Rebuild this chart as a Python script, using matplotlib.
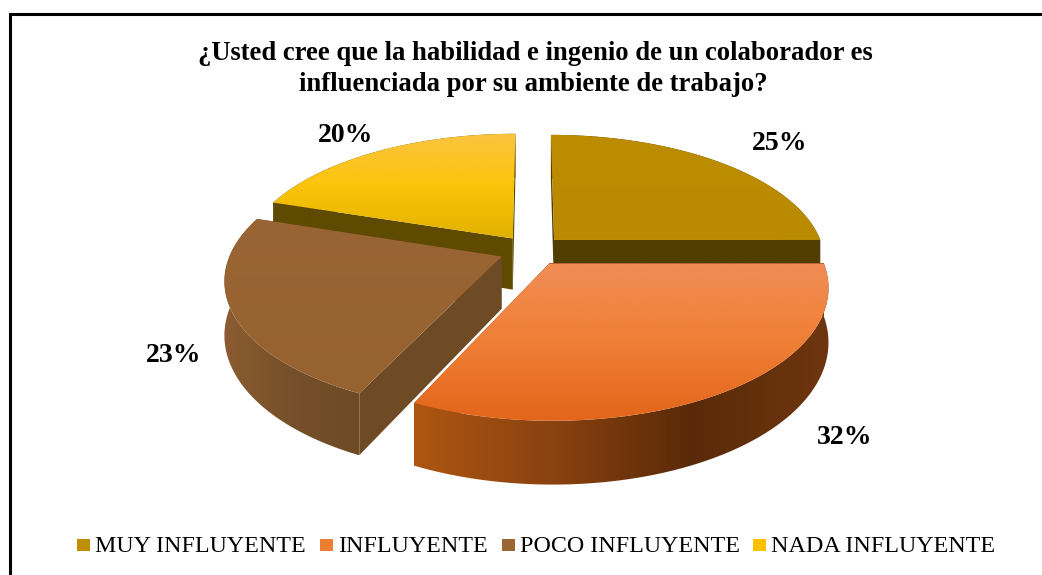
import matplotlib
matplotlib.use("Agg")
import matplotlib.pyplot as plt
import numpy as np
from matplotlib.colors import LinearSegmentedColormap
from matplotlib.patches import Polygon, Rectangle

title = ["¿Usted cree que la habilidad e ingenio de un colaborador es",
         "influenciada por su ambiente de trabajo?"]
labels = ["MUY INFLUYENTE", "INFLUYENTE", "POCO INFLUYENTE", "NADA INFLUYENTE"]
values = [25, 32, 23, 20]
colors = ["#BF8F00", "#ED7D31", "#9C6633", "#FFC000"]
top_shades = [["#BC8C00", "#BA8A00"],
              ["#F08D55", "#F07F35", "#E2651A"],
              ["#9A6534", "#96622F"],
              ["#FCC440", "#FBC40A", "#E2B200"]]
wall_shades = [["#523D00", "#523D00"],
               ["#AE5612", "#8A4210", "#5A2A08", "#6E3610"],
               ["#8C5C30", "#75502A", "#6E4A25"],
               ["#5E4A00", "#5E4A00"]]
edge_shades = ["#523D00", "#7A3A0E", "#6E4A25", "#5E4A00"]
label_pos = [(780, 143), (845, 437), (174, 356), (346, 135)]
legend_x = [77, 320, 502, 753]

# pie geometry, in pixels of the picture
cx, cy = 531.5, 250.5
rad_x, rad_y = 270, 126
persp = 0.168
explode = 0.12
depth = 52


def project(u, v, z=0.0):
    w = 1 + persp * v
    return cx + rad_x * u / w, cy - rad_y * v / w + depth * z / w


def fill_grad(ax, pts, shades, vertical, zorder):
    pts = np.array(pts)
    x0, x1 = pts[:, 0].min(), pts[:, 0].max()
    y0, y1 = pts[:, 1].min(), pts[:, 1].max()
    cmap = LinearSegmentedColormap.from_list("g", shades)
    ramp = np.linspace(0, 1, 256)
    ramp = ramp.reshape(-1, 1) if vertical else ramp.reshape(1, -1)
    im = ax.imshow(ramp, cmap=cmap, extent=(x0, x1, y1, y0), aspect="auto", zorder=zorder, interpolation="bilinear")
    im.set_clip_path(Polygon(pts, closed=True, transform=ax.transData))


fig = plt.figure(figsize=(10.42, 5.75), dpi=100)
ax = fig.add_axes([0, 0, 1, 1])

starts = np.cumsum([0] + values[:-1]) / sum(values) * 2 * np.pi
sweeps = np.array(values) / sum(values) * 2 * np.pi

# back slices first, then the front ones
order = [3, 0, 2, 1]
for n, i in enumerate(order):
    a0, a1 = starts[i], starts[i] + sweeps[i]
    mid = (a0 + a1) / 2
    ou, ov = explode * np.sin(mid), explode * np.cos(mid)
    t = np.linspace(a0, a1, 120)
    us, vs = ou + np.sin(t), ov + np.cos(t)
    z = n * 10 + 1

    apex_t, apex_b = project(ou, ov), project(ou, ov, 1)
    for end in [0, -1]:
        p_t, p_b = project(us[end], vs[end]), project(us[end], vs[end], 1)
        ax.add_patch(Polygon([apex_t, p_t, p_b, apex_b], closed=True, fc=edge_shades[i], ec="none", zorder=z))

    upper = [project(a, b) for a, b in zip(us, vs)]
    lower = [project(a, b, 1) for a, b in zip(us, vs)]
    fill_grad(ax, upper + lower[::-1], wall_shades[i], False, z + 1)
    fill_grad(ax, [apex_t] + upper, top_shades[i], True, z + 2)

ax.set_xlim(0, 1042)
ax.set_ylim(575, 0)
ax.axis("off")

# chart frame, its right and bottom sides are cut off in the picture
ax.plot([10, 10, 1042], [575, 14, 14], color="black", lw=2.2, zorder=60, solid_joinstyle="miter")

serif = "Liberation Serif"
ax.text(535, 53.5, title[0], ha="center", va="center", family=serif, weight="bold", fontsize=19.2, zorder=70)
ax.text(533, 84.5, title[1], ha="center", va="center", family=serif, weight="bold", fontsize=19.2, zorder=70)

for i in range(len(values)):
    ax.text(label_pos[i][0], label_pos[i][1], "{}%".format(values[i]), ha="center", va="center",
            family=serif, weight="bold", fontsize=20, zorder=70)
    ax.add_patch(Rectangle((legend_x[i], 539), 13, 12, fc=colors[i], ec="none", zorder=70))
    ax.text(legend_x[i] + 18, 546, labels[i], ha="left", va="center", family=serif, fontsize=17.3, zorder=70)

fig.savefig("out.png", dpi=100)
